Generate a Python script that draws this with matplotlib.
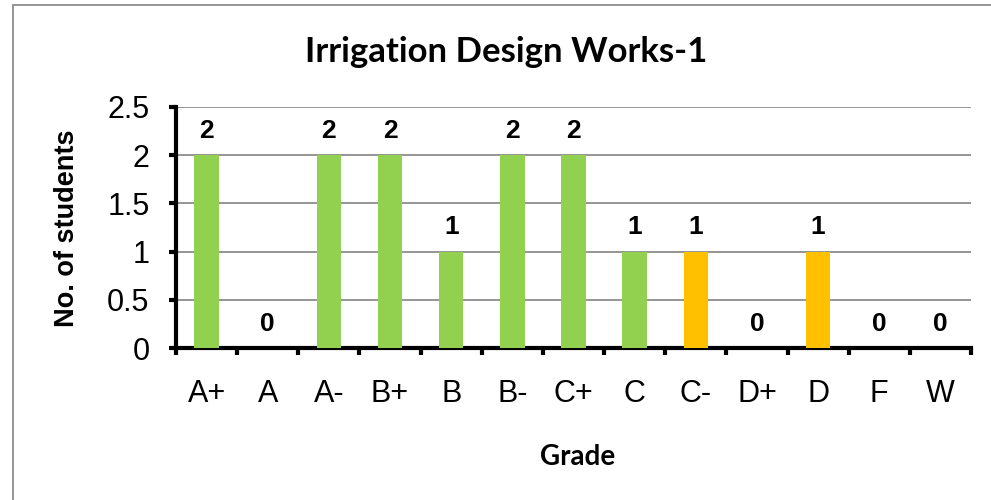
"""Grade distribution bar chart for Irrigation Design Works-1 (Excel look)."""

import matplotlib.pyplot as plt
from matplotlib.patches import Rectangle
import numpy as np

grades = ["A+", "A", "A-", "B+", "B", "B-", "C+", "C", "C-", "D+", "D", "F", "W"]
students = [2, 0, 2, 2, 1, 2, 2, 1, 1, 0, 1, 0, 0]

TITLE = "Irrigation Design Works-1"
XLABEL = "Grade"
YLABEL = "No. of students"

GREEN = "#92D050"
ORANGE = "#FFC000"
LOW_GRADES = {"C-", "D+", "D", "F", "W"}

plt.rcParams["font.family"] = ["Liberation Sans", "DejaVu Sans"]

W, H = 991, 500
fig = plt.figure(figsize=(W / 100, H / 100), dpi=100)
ax = fig.add_axes([176 / W, 1 - 348 / H, (971 - 176) / W, (348 - 107) / H])

x = np.arange(len(grades))
colors = [ORANGE if g in LOW_GRADES else GREEN for g in grades]
ax.bar(x, students, width=0.4, color=colors, zorder=3)

for xi, v in zip(x, students):
    ax.annotate(str(v), (xi, v), xytext=(0, 12.5), textcoords="offset points",
                ha="center", va="baseline", fontsize=19, fontweight="bold",
                zorder=4)

ax.set_xlim(-0.5, len(grades) - 0.5)
ax.set_ylim(0, 2.5)
ax.set_yticks(np.arange(0, 2.51, 0.5))
ax.set_yticklabels(["0", "0.5", "1", "1.5", "2", "2.5"])
ax.yaxis.grid(True, color="#8c8c8c", linewidth=1.3, zorder=0)

# category boundaries carry the tick marks, centres carry the labels
ax.set_xticks(np.arange(-0.5, len(grades), 1.0))
ax.set_xticklabels([])
ax.set_xticks(x, minor=True)
ax.set_xticklabels(grades, minor=True)
ax.tick_params(axis="x", which="minor", length=0, pad=22, labelsize=22)
ax.tick_params(axis="both", which="major", length=5, width=3, direction="out")
ax.tick_params(axis="y", pad=14, labelsize=22)

for s in ("top", "right"):
    ax.spines[s].set_visible(False)
for s in ("left", "bottom"):
    ax.spines[s].set_linewidth(3)
    ax.spines[s].set_capstyle("projecting")

fig.text(506 / W, 1 - 62 / H, TITLE, ha="center", va="baseline",
         fontsize=25, fontweight="bold", family="Lato")
fig.text(578 / W, 1 - 465 / H, XLABEL, ha="center", va="baseline",
         fontsize=20, fontweight="bold", family="Lato")
fig.text(67 / W, 1 - 228 / H, YLABEL, ha="center", va="center", rotation=90,
         fontsize=19.5, fontweight="bold", family="Liberation Sans")

# chart-area border, clipped at the right and bottom edges like the source
fig.patches.append(Rectangle((13 / W, -0.05), 1.05, 1 - 5 / H + 0.05,
                             transform=fig.transFigure, fill=False,
                             edgecolor="#8c8c8c", linewidth=1.3))

fig.savefig("out.png", dpi=100)
